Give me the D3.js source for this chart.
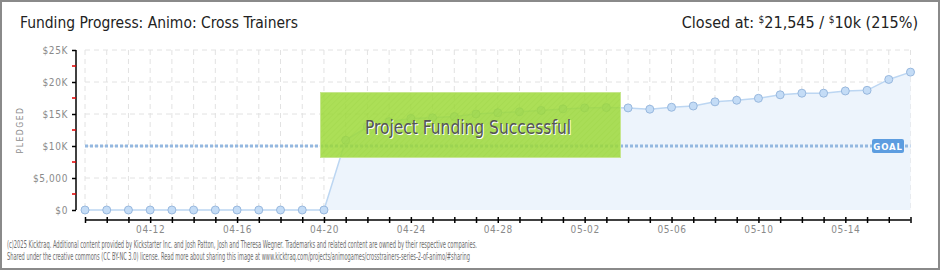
<!DOCTYPE html>
<html>
<head>
<meta charset="utf-8">
<script src="https://cdn.jsdelivr.net/npm/d3@7"></script>
<style>
  html, body { margin: 0; padding: 0; background: #fff; }
  svg { display: block; }
</style>
</head>
<body>
<svg id="chart" width="940" height="270"></svg>
<script>
// ---- data ----
const titleText = "Funding Progress: Animo: Cross Trainers";
const dates = ["04-09","04-10","04-11","04-12","04-13","04-14","04-15","04-16","04-17","04-18","04-19","04-20",
  "04-21","04-22","04-23","04-24","04-25","04-26","04-27","04-28","04-29","04-30",
  "05-01","05-02","05-03","05-04","05-05","05-06","05-07","05-08","05-09","05-10","05-11","05-12","05-13","05-14","05-15","05-16","05-17"];
const pledged = [0,0,0,0,0,0,0,0,0,0,0,0,
  10900,13000,13800,14300,14400,14600,15000,15200,15350,15550,
  15800,15950,16000,15950,15750,16050,16250,16900,17150,17450,18000,18250,18250,18600,18700,20400,21545];
const xLabels = ["04-12","04-16","04-20","04-24","04-28","05-02","05-06","05-10","05-14"];
const yTicks = [0,5000,10000,15000,20000,25000];
const yTickLabels = ["$0","$5,000","$10K","$15K","$20K","$25K"];
const yMinorTicks = [2500,7500,12500,17500,22500];
const goal = 10000;
const footerLines = [
  "(c)2025 Kicktraq. Additional content provided by Kickstarter Inc. and Josh Patton, Josh and Theresa Wegner. Trademarks and related content are owned by their respective companies.",
  "Shared under the creative commons (CC BY-NC 3.0) license. Read more about sharing this image at www.kicktraq.com/projects/animogames/crosstrainers-series-2-of-animo/#sharing"
];

// ---- drawing ----
const svg = d3.select("#chart");
const W = 940, H = 270;
const FONT = "'DejaVu Sans Condensed','DejaVu Sans',sans-serif";

// frame
svg.append("rect").attr("x",1).attr("y",1).attr("width",W-2).attr("height",H-2)
  .attr("fill","#fff").attr("stroke","#8a8a8a").attr("stroke-width",2);

const x = d3.scalePoint().domain(dates).range([85, 910.5]);
const y = d3.scaleLinear().domain([0,25000]).range([210, 50]);

// grid
const grid = svg.append("g");
grid.selectAll("line.v").data(dates).join("line")
  .attr("x1",d=>x(d)).attr("x2",d=>x(d)).attr("y1",y(25000)).attr("y2",y(0))
  .attr("stroke","#e2e2e2").attr("stroke-dasharray","5,4");
grid.selectAll("line.h").data(yTicks.filter(v=>v>0)).join("line")
  .attr("x1",x(dates[0])).attr("x2",x(dates[dates.length-1])).attr("y1",d=>y(d)).attr("y2",d=>y(d))
  .attr("stroke","#e2e2e2").attr("stroke-dasharray","5,4");

// area + line
const pts = dates.map((d,i)=>({d, v: pledged[i]}));
svg.append("path").datum(pts)
  .attr("d", d3.area().x(p=>x(p.d)).y0(y(0)).y1(p=>y(p.v)))
  .attr("fill","#edf4fc");
svg.append("path").datum(pts)
  .attr("d", d3.line().x(p=>x(p.d)).y(p=>y(p.v)))
  .attr("fill","none").attr("stroke","#bcd6f2").attr("stroke-width",1.5);

// goal line
svg.append("line").attr("x1",x(dates[0])).attr("x2",x(dates[dates.length-1]))
  .attr("y1",y(goal)).attr("y2",y(goal))
  .attr("stroke","#94b8e0").attr("stroke-width",3).attr("stroke-dasharray","3,2");

// points
svg.append("g").selectAll("circle").data(pts).join("circle")
  .attr("cx",p=>x(p.d)).attr("cy",p=>y(p.v)).attr("r",4)
  .attr("fill","#c4dcf6").attr("stroke","#98b8de").attr("stroke-width",1);

// y axis
const yAxis = svg.append("g").attr("transform","translate(76,0)")
  .call(d3.axisLeft(y).tickValues(yTicks).tickFormat((d,i)=>yTickLabels[i]).tickSize(4).tickPadding(4));
yAxis.select(".domain").attr("stroke","#000").attr("stroke-width",1.5).attr("d","M0,50V210");
yAxis.selectAll(".tick line").attr("stroke","#000").attr("stroke-width",1.5);
yAxis.selectAll(".tick text").attr("fill","#8a8a8a").style("font-family",FONT).style("font-size","10px").style("letter-spacing","0.6px");
svg.append("g").selectAll("line").data(yMinorTicks).join("line")
  .attr("x1",72).attr("x2",76).attr("y1",d=>y(d)).attr("y2",d=>y(d))
  .attr("stroke","#e00000").attr("stroke-width",1.5);

// x axis
const xAxis = svg.append("g").attr("transform","translate(0,220)")
  .call(d3.axisBottom(x).tickValues(dates).tickSize(3).tickSizeOuter(0).tickFormat(d=>xLabels.includes(d)?d:""));
xAxis.select(".domain").attr("stroke","#000").attr("stroke-width",1.5)
  .attr("d",`M${x(dates[0])},0H${x(dates[dates.length-1])}`);
xAxis.selectAll(".tick line").attr("stroke","#000").attr("stroke-width",1.5).attr("y1",-3).attr("y2",3);
xAxis.selectAll(".tick text").attr("fill","#8a8a8a").attr("y",6).style("font-family",FONT).style("font-size","10px").style("letter-spacing","0.6px");

// y label
svg.append("text").attr("transform","translate(23,130) rotate(-90)")
  .attr("text-anchor","middle").attr("fill","#8a8a8a")
  .style("font-family",FONT).style("font-size","8.5px").style("letter-spacing","1.5px")
  .text("PLEDGED");

// GOAL badge
const gx = 872, gy = y(goal);
svg.append("rect").attr("x",gx).attr("y",gy-7).attr("width",32).attr("height",14).attr("rx",2)
  .attr("fill","#5d9de0");
svg.append("text").attr("x",gx+16).attr("y",gy+3.5).attr("text-anchor","middle")
  .attr("fill","#fff").style("font-family",FONT).style("font-size","9.5px").style("font-weight","bold").style("letter-spacing","0.8px")
  .text("GOAL");

// success banner
const defs = svg.append("defs");
const pat = defs.append("pattern").attr("id","hatch").attr("patternUnits","userSpaceOnUse")
  .attr("width",4).attr("height",4).attr("patternTransform","rotate(45)");
pat.append("rect").attr("width",4).attr("height",4).attr("fill","rgba(158,217,58,0.85)");
pat.append("line").attr("x1",0).attr("y1",0).attr("x2",0).attr("y2",4).attr("stroke","rgba(140,200,50,0.3)").attr("stroke-width",1);
svg.append("rect").attr("x",320.5).attr("y",92.5).attr("width",300).attr("height",65)
  .attr("fill","url(#hatch)").attr("stroke","#c6e68e").attr("stroke-width",1);
svg.append("text").attr("x",469).attr("y",134.5).attr("text-anchor","middle").attr("fill","#fff")
  .attr("textLength",206).attr("lengthAdjust","spacingAndGlyphs")
  .style("font-family",FONT).style("font-size","19px").text("Project Funding Successful");
svg.append("text").attr("x",468).attr("y",133.5).attr("text-anchor","middle").attr("fill","#555")
  .attr("textLength",206).attr("lengthAdjust","spacingAndGlyphs")
  .style("font-family",FONT).style("font-size","19px").text("Project Funding Successful");

// title
svg.append("text").attr("x",20).attr("y",28).attr("fill","#222")
  .attr("textLength",278).attr("lengthAdjust","spacingAndGlyphs")
  .style("font-family",FONT).style("font-size","16px").text(titleText);

// closed at
const hdr = svg.append("text").attr("x",918).attr("y",28).attr("text-anchor","end").attr("fill","#222")
  .style("font-family",FONT).style("font-size","16px");
hdr.append("tspan").text("Closed at:  ");
hdr.append("tspan").attr("font-size","10px").attr("dy",-5).text("$");
hdr.append("tspan").attr("dy",5).text("21,545 / ");
hdr.append("tspan").attr("font-size","10px").attr("dy",-5).text("$");
hdr.append("tspan").attr("dy",5).text("10k (215%)");

// footer
svg.append("g").selectAll("text").data(footerLines).join("text")
  .attr("x",7).attr("y",(d,i)=>248+i*12).attr("fill","#6e6e6e")
  .attr("textLength",(d,i)=>i===0?470:463).attr("lengthAdjust","spacingAndGlyphs")
  .style("font-family",FONT).style("font-size","10.5px").text(d=>d);
</script>
</body>
</html>
